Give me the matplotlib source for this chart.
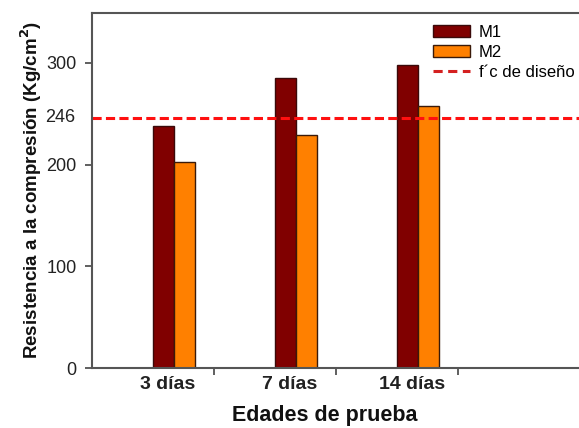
import matplotlib
matplotlib.use("Agg")
import matplotlib.pyplot as plt
import matplotlib.transforms as mtransforms
import numpy as np
from matplotlib.patches import Patch
from matplotlib.lines import Line2D

plt.rcParams['font.family'] = ['Liberation Sans', 'DejaVu Sans']

categories = ["3 días", "7 días", "14 días"]
m1 = [238, 285, 298]
m2 = [202, 229, 257]
design = 246
yticks = [0, 100, 200, 300]

fig = plt.figure(figsize=(5.79, 4.28), dpi=100)
ax = fig.add_axes([0.159, 0.140, 0.841, 0.830])

x = np.arange(len(categories))
w = 0.172
ax.bar(x - w/2, m1, w, color='#800000', edgecolor='#3a0a0a', linewidth=1.0, label='M1')
ax.bar(x + w/2, m2, w, color='#FF8000', edgecolor='#3a1a0a', linewidth=1.0, label='M2')
ax.axhline(design, color='#FF1010', linestyle=(0, (3, 1.4)), linewidth=2.2)

ax.set_xlim(-0.672, 3.32)
ax.set_ylim(0, 349)
ax.set_yticks(yticks)
ax.set_yticklabels([str(v) for v in yticks], fontsize=13, color='#222222')
off = mtransforms.ScaledTranslation(-17/100, 0, fig.dpi_scale_trans)
ax.text(0, design, str(design), ha='right', va='center', fontsize=13, color='#222222',
        transform=ax.get_yaxis_transform() + off)

ax.set_xticks(x)
ax.set_xticklabels(categories, fontsize=14, fontweight='bold', color='#222222')
ax.tick_params(axis='x', length=0, pad=6)
shift = mtransforms.ScaledTranslation(-6/100, 0, fig.dpi_scale_trans)
for lab in ax.get_xticklabels():
    lab.set_transform(lab.get_transform() + shift)
ax.set_xticks(x + 0.33, minor=True)
ax.tick_params(axis='x', which='minor', length=5, width=1.2, color='#444444', direction='out')
ax.tick_params(axis='y', length=5, width=1.2, color='#444444', direction='out', pad=6)

for s in ['left', 'top', 'bottom']:
    ax.spines[s].set_color('#555555')
    ax.spines[s].set_linewidth(1.5)
ax.spines['right'].set_visible(False)

ax.set_xlabel('Edades de prueba', fontsize=15.5, fontweight='bold', color='#111111')
ax.xaxis.set_label_coords(0.478, -0.105)
ax.set_ylabel('Resistencia a la compresión (Kg/cm$^\\mathbf{2}$)', fontsize=13.5, fontweight='bold', color='#111111', labelpad=2)

handles = [Patch(facecolor='#800000', edgecolor='#3a0a0a', label='M1'),
           Patch(facecolor='#FF8000', edgecolor='#3a1a0a', label='M2'),
           Line2D([0], [0], color='#D42020', linestyle=(0, (3, 1.8)), linewidth=2.2, label='f´c de diseño')]
ax.legend(handles=handles, loc='upper right', bbox_to_anchor=(1.005, 0.985), frameon=False,
          fontsize=12, handlelength=2.2, handleheight=0.7, labelspacing=0.3, handletextpad=0.55,
          borderaxespad=0.0)

fig.savefig('out.png', dpi=100)
